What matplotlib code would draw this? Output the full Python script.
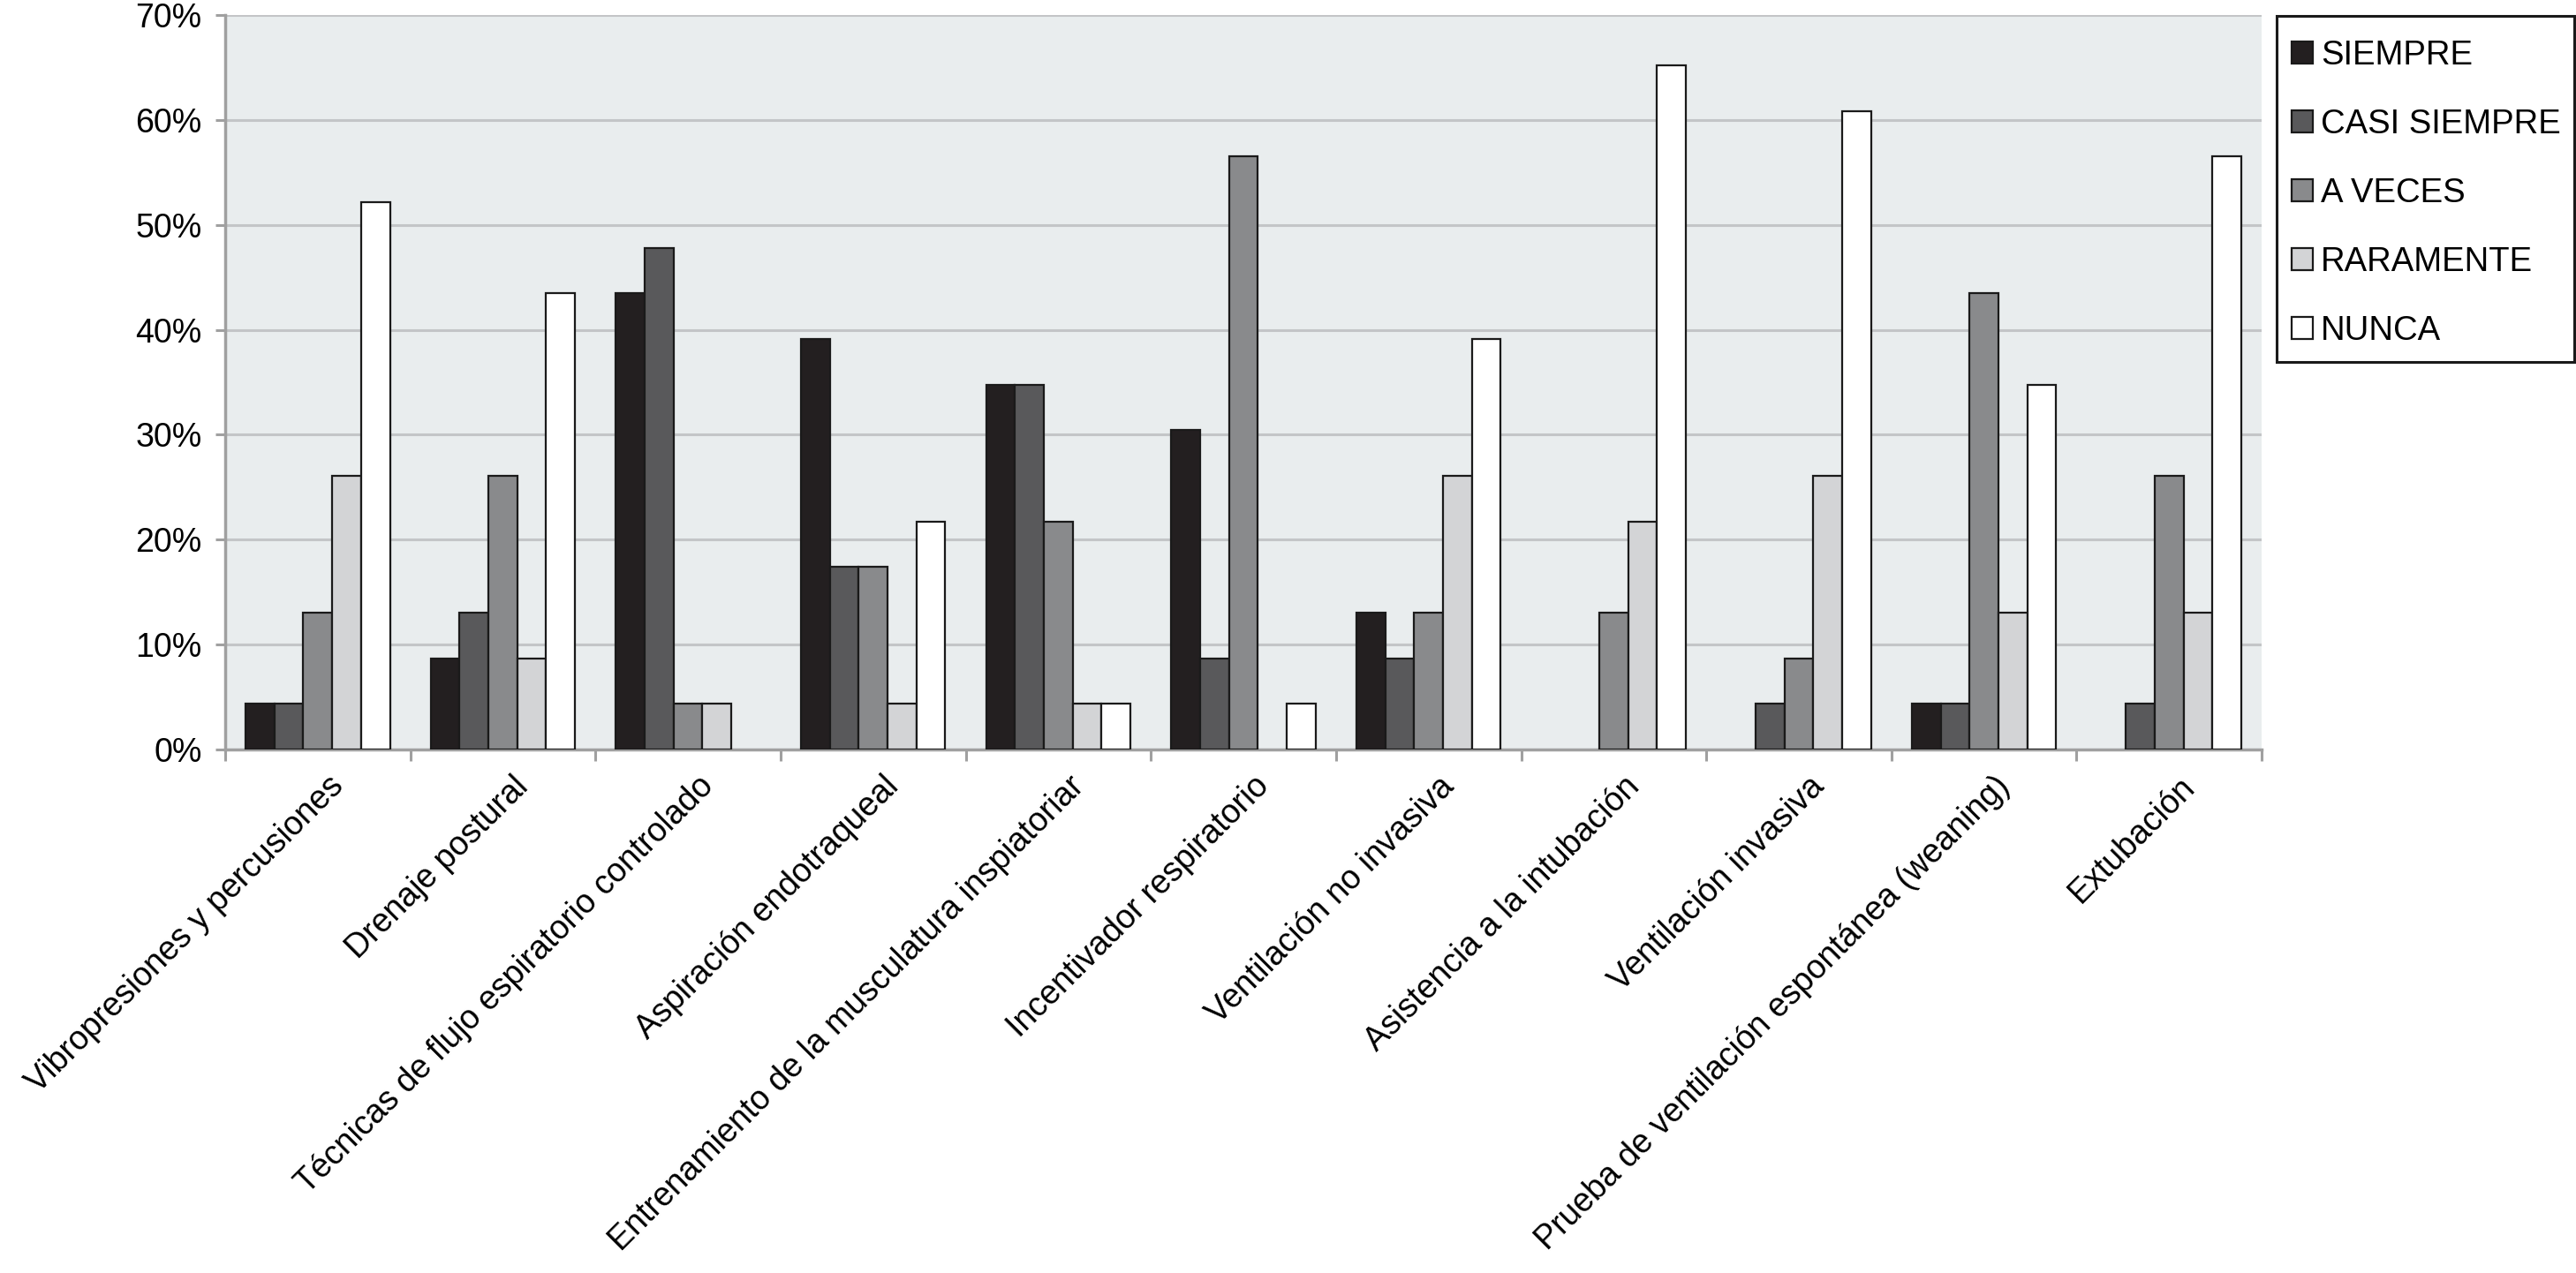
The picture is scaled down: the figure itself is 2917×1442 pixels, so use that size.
import matplotlib
matplotlib.use("Agg")
import matplotlib.pyplot as plt
import numpy as np
from matplotlib.ticker import FuncFormatter, FixedLocator
from matplotlib.patches import Rectangle
import matplotlib.transforms as mtransforms

categories = [
    "Vibropresiones y percusiones",
    "Drenaje postural",
    "Técnicas de flujo espiratorio controlado",
    "Aspiración endotraqueal",
    "Entrenamiento de la musculatura inspiatoriar",
    "Incentivador respiratorio",
    "Ventilación no invasiva",
    "Asistencia a la intubación",
    "Ventilación invasiva",
    "Prueba de ventilación espontánea (weaning)",
    "Extubación",
]
series_names = ["SIEMPRE", "CASI SIEMPRE", "A VECES", "RARAMENTE", "NUNCA"]
siempre      = [4.35, 8.70, 43.48, 39.13, 34.78, 30.43, 13.04, 0.0, 0.0, 4.35, 0.0]
casi_siempre = [4.35, 13.04, 47.83, 17.39, 34.78, 8.70, 8.70, 0.0, 4.35, 4.35, 4.35]
a_veces      = [13.04, 26.09, 4.35, 17.39, 21.74, 56.52, 13.04, 13.04, 8.70, 43.48, 26.09]
raramente    = [26.09, 8.70, 4.35, 4.35, 4.35, 0.0, 26.09, 21.74, 26.09, 13.04, 13.04]
nunca        = [52.17, 43.48, 0.0, 21.74, 4.35, 4.35, 39.13, 65.22, 60.87, 34.78, 56.52]
yticks = [0, 10, 20, 30, 40, 50, 60, 70]

series = [siempre, casi_siempre, a_veces, raramente, nunca]
colors = ["#231f20", "#59595b", "#898a8c", "#d3d4d6", "#ffffff"]

plt.rcParams["font.family"] = ["Liberation Sans", "DejaVu Sans"]

fig = plt.figure(figsize=(29.17, 14.42), dpi=100)
ax = fig.add_axes([0.0874, 0.4112, 0.7906, 0.5770])
ax.set_facecolor("#e9edee")

n = len(categories)
x = np.arange(n)
bw = 0.156
handles = []
for i, (vals, col, name) in enumerate(zip(series, colors, series_names)):
    off = (i - 2) * bw
    b = ax.bar(x + off, vals, width=bw, color=col, edgecolor="#1a1a1a",
               linewidth=1.6, label=name, zorder=3)
    for p in b.patches:
        if p.get_height() == 0:
            p.set_visible(False)
    handles.append(b)

ax.set_xlim(-0.5, n - 0.5)
ax.set_ylim(0, 70)
ax.set_yticks(yticks)
ax.yaxis.set_major_formatter(FuncFormatter(lambda v, p: f"{int(v)}%"))
ax.grid(axis="y", color="#c3c5c7", linewidth=2.2, zorder=0)
ax.set_axisbelow(True)

# category boundary ticks
ax.xaxis.set_major_locator(FixedLocator(np.arange(-0.5, n, 1.0)))
ax.set_xticklabels([])
ax.xaxis.set_minor_locator(FixedLocator(x))
ax.set_xticklabels(categories, minor=True, rotation=45, ha="right",
                   va="top", rotation_mode="anchor", fontsize=27)
ax.tick_params(axis="x", which="minor", length=0, pad=17)
ax.tick_params(axis="x", which="major", length=9, width=2.2, color="#a0a0a0")
ax.tick_params(axis="y", length=8, width=2.2, color="#a0a0a0", labelsize=27, pad=11)
for lab in ax.get_xticklabels(minor=True):
    lab.set_transform(lab.get_transform() + mtransforms.ScaledTranslation(0.11, 0, fig.dpi_scale_trans))

for s in ["top", "right"]:
    ax.spines[s].set_visible(False)
for s in ["left", "bottom"]:
    ax.spines[s].set_color("#a0a0a0")
    ax.spines[s].set_linewidth(2.5)

leg = fig.legend(handles=handles, labels=series_names, loc="upper left",
                 bbox_to_anchor=(0.8896, 0.9688), fontsize=27.5,
                 frameon=False,
                 handlelength=0.63, handleheight=0.63, handletextpad=0.24,
                 labelspacing=1.1, borderpad=0, borderaxespad=0)
fig.patches.append(Rectangle((0.8838, 0.7157), 0.1155, 0.2718,
                             transform=fig.transFigure, fill=False,
                             edgecolor="#1a1a1a", linewidth=2.2))

fig.savefig("out.png", dpi=100, facecolor="white")
